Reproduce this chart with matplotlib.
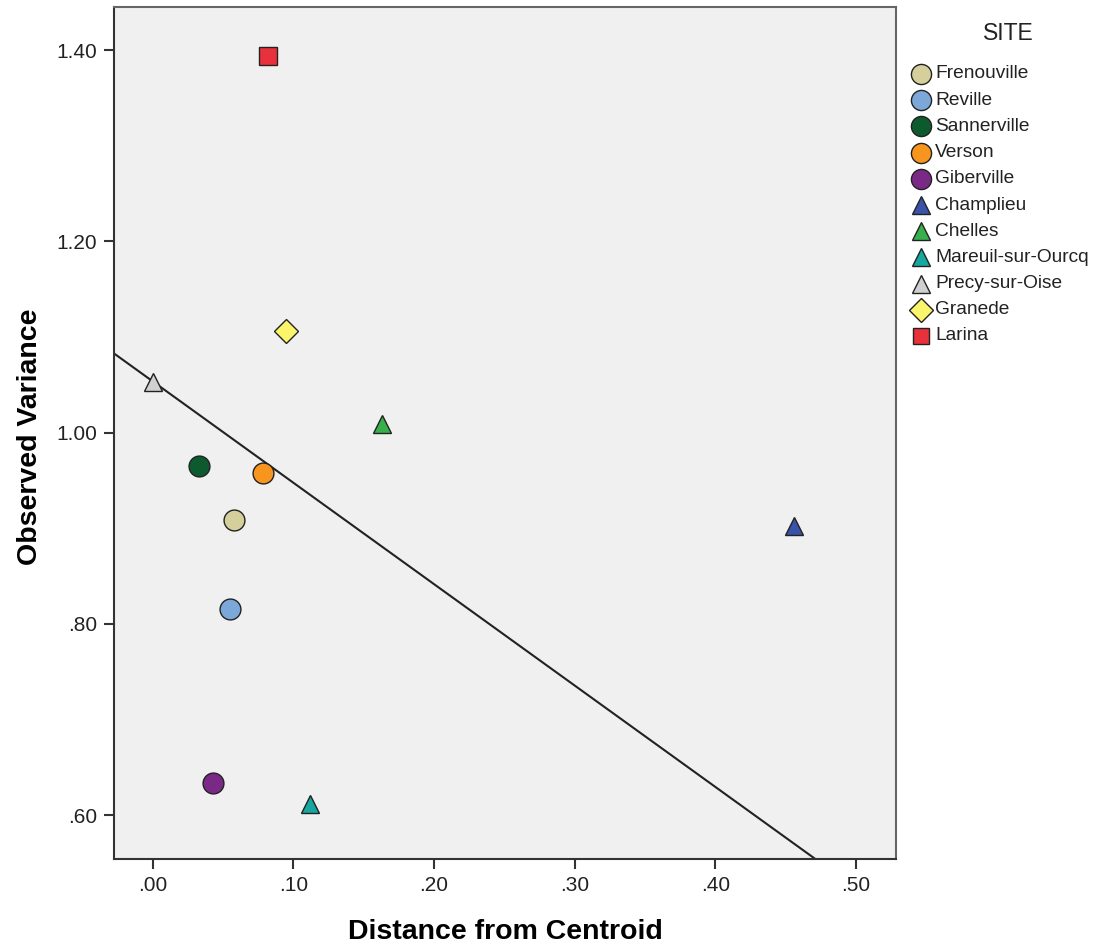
import matplotlib
matplotlib.use("Agg")
import matplotlib.pyplot as plt
from matplotlib.lines import Line2D
from matplotlib.ticker import FuncFormatter

plt.rcParams['font.family'] = ['Liberation Sans', 'DejaVu Sans']

sites = ["Frenouville", "Reville", "Sannerville", "Verson", "Giberville",
         "Champlieu", "Chelles", "Mareuil-sur-Ourcq", "Precy-sur-Oise",
         "Granede", "Larina"]
distance = [0.058, 0.055, 0.033, 0.078, 0.043, 0.456, 0.163, 0.112, 0.000, 0.095, 0.082]
variance = [0.908, 0.815, 0.965, 0.958, 0.633, 0.902, 1.009, 0.612, 1.053, 1.106, 1.394]
markers = ["o", "o", "o", "o", "o", "^", "^", "^", "^", "D", "s"]
colors = ["#d4cf9b", "#7ba7d9", "#0d5a2e", "#f7951e", "#7a2a86",
          "#3a52a8", "#37b04b", "#17a7a1", "#d0d0d0", "#fbf56b", "#e8313b"]

line_intercept = 1.0534
line_slope = -1.06

xticks = [0.0, 0.1, 0.2, 0.3, 0.4, 0.5]
yticks = [0.6, 0.8, 1.0, 1.2, 1.4]

msize = {"o": 15, "^": 12.5, "D": 12.5, "s": 12.5}
lsize = {"o": 14.5, "^": 12.5, "D": 12, "s": 12}

fig = plt.figure(figsize=(11.15, 9.49), dpi=100)
ax = fig.add_axes([113.5/1115, 1-859/949, (896-113.5)/1115, (859-7)/949])
ax.set_facecolor("#f0f0f0")
ax.set_xlim(-0.028, 0.5285)
ax.set_ylim(0.554, 1.445)

xs = [-0.028, 0.5285]
ax.plot(xs, [line_intercept + line_slope*x for x in xs], color="#222222", lw=1.5, zorder=2)

for s, x, y, m, c in zip(sites, distance, variance, markers, colors):
    ax.plot([x], [y], marker=m, linestyle="none", markersize=msize[m], markerfacecolor=c,
            markeredgecolor="#222222", markeredgewidth=1.0, zorder=3)

ax.set_xticks(xticks)
ax.set_yticks(yticks)
fmt = FuncFormatter(lambda v, p: ("%.2f" % v).lstrip("0") if v < 1 else "%.2f" % v)
ax.xaxis.set_major_formatter(fmt)
ax.yaxis.set_major_formatter(fmt)
ax.tick_params(direction="out", length=7, width=1.5, color="#333333", labelsize=15,
               labelcolor="#222222", pad=5)
for side in ["left", "bottom"]:
    ax.spines[side].set_color("#333333")
    ax.spines[side].set_linewidth(1.5)
for side in ["top", "right"]:
    ax.spines[side].set_color("#666666")
    ax.spines[side].set_linewidth(1.5)

ax.set_xlabel("Distance from Centroid", fontsize=20.5, fontweight="bold", va="center")
ax.xaxis.set_label_coords((505-113.5)/782.5, (859-932)/852)
ax.set_ylabel("Observed Variance", fontsize=20.5, fontweight="bold", va="center")
ax.yaxis.set_label_coords((30-113.5)/782.5, (859-437)/852)

# legend
fig.text(1008/1115, 1-33/949, "SITE", fontsize=16.5, ha="center", va="center", color="#222222")
for i, (s, m, c) in enumerate(zip(sites, markers, colors)):
    ypx = 74 + i*26.2
    fig.add_artist(Line2D([921/1115], [1-ypx/949], marker=m, markersize=lsize[m],
                          markerfacecolor=c, markeredgecolor="#222222",
                          markeredgewidth=1.0, linestyle="none", transform=fig.transFigure))
    fig.text(935/1115, 1-ypx/949, s, fontsize=13.8, ha="left", va="center", color="#222222")

fig.savefig("out.png", dpi=100)
